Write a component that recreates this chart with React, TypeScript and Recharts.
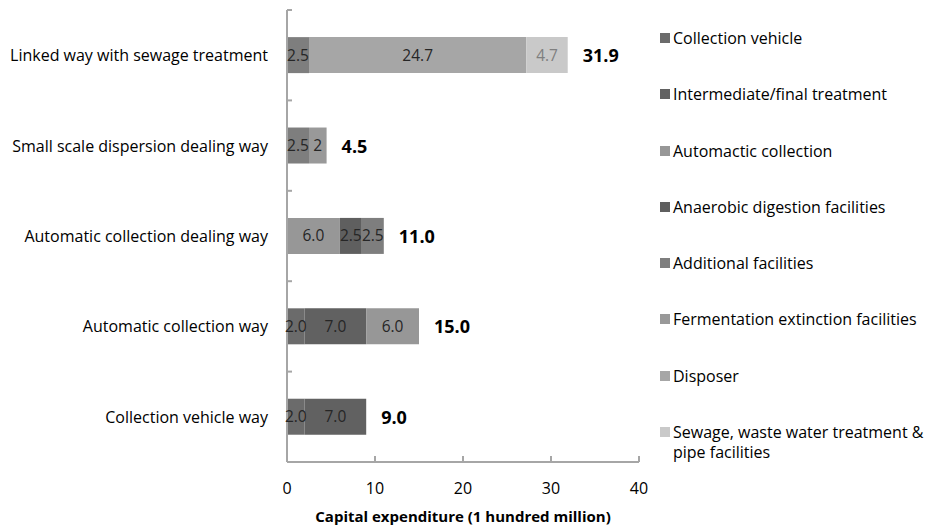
import { BarChart, Bar, XAxis, YAxis, Legend, LabelList, Label } from "recharts"

const categories = [
  "Linked way with sewage treatment",
  "Small scale dispersion dealing way",
  "Automatic collection dealing way",
  "Automatic collection way",
  "Collection vehicle way",
]

// cost components per way, in 1 hundred million (null = not used)
const collectionVehicle = [null, null, null, 2.0, 2.0]
const intermediateTreatment = [null, null, null, 7.0, 7.0]
const automaticCollection = [null, null, 6.0, 6.0, null]
const anaerobicDigestion = [null, null, 2.5, null, null]
const additionalFacilities = [2.5, 2.5, 2.5, null, null]
const fermentationExtinction = [null, 2, null, null, null]
const disposer = [24.7, null, null, null, null]
const sewageFacilities = [4.7, null, null, null, null]

const xTicks = [0, 10, 20, 30, 40]

const FONT = "'Open Sans', sans-serif"
const WIDTH = 926
const HEIGHT = 525
const MARGIN = { top: 10, right: 287, bottom: 0, left: 0 }
const Y_AXIS_WIDTH = 287
const X_AXIS_HEIGHT = 63
const BAND = (HEIGHT - MARGIN.top - MARGIN.bottom - X_AXIS_HEIGHT) / categories.length
const AXIS_COLOR = "#a6a6a6"

const series = [
  { key: "collectionVehicle", name: "Collection vehicle", values: collectionVehicle, color: "#6b6b6b", decimals: 1, labelColor: "#262626" },
  { key: "intermediateTreatment", name: "Intermediate/final treatment", values: intermediateTreatment, color: "#616161", decimals: 1, labelColor: "#262626" },
  { key: "automaticCollection", name: "Automactic collection", values: automaticCollection, color: "#979797", decimals: 1, labelColor: "#262626" },
  { key: "anaerobicDigestion", name: "Anaerobic digestion facilities", values: anaerobicDigestion, color: "#5f5f5f", decimals: 1, labelColor: "#262626" },
  { key: "additionalFacilities", name: "Additional facilities", values: additionalFacilities, color: "#7e7e7e", decimals: 1, labelColor: "#262626" },
  { key: "fermentationExtinction", name: "Fermentation extinction facilities", values: fermentationExtinction, color: "#999999", decimals: 0, labelColor: "#262626" },
  { key: "disposer", name: "Disposer", values: disposer, color: "#a6a6a6", decimals: 1, labelColor: "#262626" },
  { key: "sewageFacilities", name: "Sewage, waste water treatment & pipe facilities", values: sewageFacilities, color: "#c9c9c9", decimals: 1, labelColor: "#7f7f7f" },
]

// each row carries its total on the key of the last segment it uses,
// so the total label sits right after the end of the stack
const data = categories.map((name, i) => {
  const row: Record<string, string | number | null> = { name }
  let total = 0
  let lastKey = ""
  series.forEach((s) => {
    row[s.key] = s.values[i]
    row[`${s.key}Total`] = null
    if (s.values[i] != null) {
      total += s.values[i] as number
      lastKey = s.key
    }
  })
  row[`${lastKey}Total`] = Math.round(total * 10) / 10
  return row
})

function CategoryTick({ x, y, payload }: any) {
  return (
    <g>
      <line x1={Y_AXIS_WIDTH} x2={Y_AXIS_WIDTH + 5} y1={y - BAND / 2} y2={y - BAND / 2} stroke={AXIS_COLOR} strokeWidth={2} />
      <text x={x} y={y} dy={6} textAnchor="end" fontSize={16} fill="#000" fontFamily={FONT}>
        {payload.value}
      </text>
    </g>
  )
}

function ValueTick({ x, y, payload }: any) {
  return (
    <g>
      {payload.value !== 0 && <line x1={x} x2={x} y1={y} y2={y - 6} stroke={AXIS_COLOR} strokeWidth={2} />}
      <text x={x} y={y + 32} textAnchor="middle" fontSize={16} fill="#000" fontFamily={FONT}>
        {payload.value}
      </text>
    </g>
  )
}

function makeSegmentLabel(decimals: number, color: string) {
  return function SegmentLabel({ x, y, width, height, value }: any) {
    if (value == null) return null
    return (
      <text x={x + width / 2} y={y + height / 2} dy={5.5} textAnchor="middle" fontSize={15.5} fill={color} fontFamily={FONT}>
        {Number(value).toFixed(decimals)}
      </text>
    )
  }
}

function TotalLabel({ x, y, width, height, value }: any) {
  if (value == null) return null
  return (
    <text x={x + width + 15} y={y + height / 2} dy={7} fontSize={18} fontWeight="bold" fill="#000" fontFamily={FONT}>
      {Number(value).toFixed(1)}
    </text>
  )
}

function LegendList({ payload }: any) {
  const colors: Record<string, string> = {}
  ;(payload ?? []).forEach((item: any) => {
    colors[item.dataKey] = item.color
  })
  return (
    <ul style={{ listStyle: "none", margin: 0, padding: 0, fontFamily: FONT, fontSize: 16 }}>
      {series.map((s) => (
        <li key={s.key} style={{ display: "flex", alignItems: "flex-start", height: 56.3, lineHeight: "20px" }}>
          <span style={{ width: 10, height: 10, marginTop: 5, marginRight: 3, background: colors[s.key] ?? s.color, flexShrink: 0 }} />
          <span style={{ width: 253, color: "#000" }}>{s.name}</span>
        </li>
      ))}
    </ul>
  )
}

export default function App() {
  return (
    <div style={{ width: WIDTH, height: HEIGHT, background: "#fff" }}>
      <style>{`body { margin: 0; }`}</style>
      <BarChart width={WIDTH} height={HEIGHT} data={data} layout="vertical" margin={MARGIN} barCategoryGap="30%">
        <XAxis
          type="number"
          domain={[0, 40]}
          ticks={xTicks}
          height={X_AXIS_HEIGHT}
          stroke={AXIS_COLOR}
          strokeWidth={2}
          tickLine={false}
          tickSize={0}
          tickMargin={0}
          tick={<ValueTick />}
        >
          <Label
            value="Capital expenditure (1 hundred million)"
            position="insideBottom"
            offset={3}
            style={{ fontFamily: FONT, fontSize: 15, fontWeight: "bold", fill: "#000" }}
          />
        </XAxis>
        <YAxis
          type="category"
          dataKey="name"
          width={Y_AXIS_WIDTH}
          stroke={AXIS_COLOR}
          strokeWidth={2}
          tickLine={false}
          tickSize={0}
          tickMargin={19}
          tick={<CategoryTick />}
        />
        <Legend layout="vertical" align="center" verticalAlign="middle" wrapperStyle={{ left: 660, top: 28, width: 266 }} content={<LegendList />} />
        {series.map((s) => {
          const SegmentLabel = makeSegmentLabel(s.decimals, s.labelColor)
          return (
            <Bar key={s.key} dataKey={s.key} name={s.name} stackId="cost" fill={s.color} isAnimationActive={false}>
              <LabelList dataKey={s.key} content={<SegmentLabel />} />
              <LabelList dataKey={`${s.key}Total`} content={<TotalLabel />} />
            </Bar>
          )
        })}
      </BarChart>
    </div>
  )
}
